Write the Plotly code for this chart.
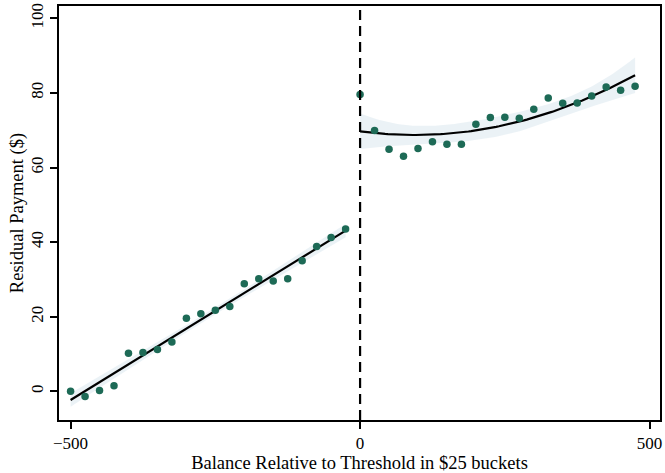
import numpy as np
import plotly.graph_objects as go

# Binned balances (relative to threshold, $25 buckets) and mean residual payments
left_x = [-500, -475, -450, -425, -400, -375, -350, -325, -300, -275,
          -250, -225, -200, -175, -150, -125, -100, -75, -50, -25]
left_y = [0.0, -1.4, 0.2, 1.5, 10.2, 10.4, 11.2, 13.2, 19.6, 20.8,
          21.7, 22.7, 28.8, 30.2, 29.6, 30.2, 35.0, 38.8, 41.2, 43.5]

right_x = [0, 25, 50, 75, 100, 125, 150, 175, 200, 225,
           250, 275, 300, 325, 350, 375, 400, 425, 450, 475]
right_y = [79.6, 69.9, 64.9, 63.0, 65.1, 66.9, 66.2, 66.2, 71.6, 73.4,
           73.5, 73.2, 75.6, 78.6, 77.2, 77.3, 79.2, 81.6, 80.7, 81.8]

x_ticks = [-500, 0, 500]
y_ticks = [0, 20, 40, 60, 80, 100]

MARKER = "#1d6a56"
BAND = "rgba(218,231,238,0.55)"
FONT = "Liberation Serif"


def fit_with_ci(x, y, deg, grid):
    """OLS polynomial fit with a 95% confidence band for the mean."""
    x = np.asarray(x, float)
    y = np.asarray(y, float)
    X = np.vander(x, deg + 1)
    beta, *_ = np.linalg.lstsq(X, y, rcond=None)
    resid = y - X @ beta
    dof = len(x) - (deg + 1)
    s2 = resid @ resid / dof
    cov = s2 * np.linalg.inv(X.T @ X)
    G = np.vander(grid, deg + 1)
    yhat = G @ beta
    se = np.sqrt(np.einsum("ij,jk,ik->i", G, cov, G))
    t = 2.11 if dof == 17 else 2.10
    return yhat, yhat - t * se, yhat + t * se


gl = np.linspace(min(left_x), max(left_x), 100)
gr = np.linspace(min(right_x), max(right_x), 100)
fl, lol, hil = fit_with_ci(left_x, left_y, 1, gl)
fr, lor, hir = fit_with_ci(right_x, right_y, 2, gr)

fig = go.Figure()

for g, lo, hi in [(gl, lol, hil), (gr, lor, hir)]:
    fig.add_trace(go.Scatter(
        x=np.concatenate([g, g[::-1]]), y=np.concatenate([hi, lo[::-1]]),
        fill="toself", fillcolor=BAND, line=dict(width=0),
        mode="lines", hoverinfo="skip", showlegend=False))

fig.add_trace(go.Scatter(x=gl, y=fl, mode="lines",
                         line=dict(color="black", width=2.2), showlegend=False))
fig.add_trace(go.Scatter(x=gr, y=fr, mode="lines",
                         line=dict(color="black", width=2.2), showlegend=False))

fig.add_trace(go.Scatter(x=left_x, y=left_y, mode="markers",
                         marker=dict(color=MARKER, size=7.5), showlegend=False))
fig.add_trace(go.Scatter(x=right_x, y=right_y, mode="markers",
                         marker=dict(color=MARKER, size=7.5), showlegend=False))

# Threshold marker
fig.add_shape(type="line", x0=0, x1=0, y0=0, y1=1, yref="paper",
              line=dict(color="black", width=2.2, dash="10px,6px"))

fig.update_layout(
    width=665, height=473,
    margin=dict(l=59, r=3, t=5, b=50),
    plot_bgcolor="white", paper_bgcolor="white",
    font=dict(family=FONT, size=17, color="black"),
    xaxis=dict(range=[-520, 518], tickvals=x_ticks,
               ticktext=["\u2212500", "0", "500"],
               showgrid=False, zeroline=False,
               showline=True, linecolor="black", linewidth=1.5, mirror=True,
               ticks="outside", ticklen=7, tickcolor="black", tickwidth=1.5,
               title=dict(text="Balance Relative to Threshold in $25 buckets",
                          font=dict(size=18.5), standoff=4)),
    yaxis=dict(range=[-7.7, 103.3], tickvals=y_ticks, tickangle=-90,
               showgrid=False, zeroline=False,
               showline=True, linecolor="black", linewidth=1.5, mirror=True,
               ticks="outside", ticklen=7, tickcolor="black", tickwidth=1.5,
               title=dict(text="Residual Payment ($)", font=dict(size=18.5),
                          standoff=0)),
)

fig.write_html("out.html")
